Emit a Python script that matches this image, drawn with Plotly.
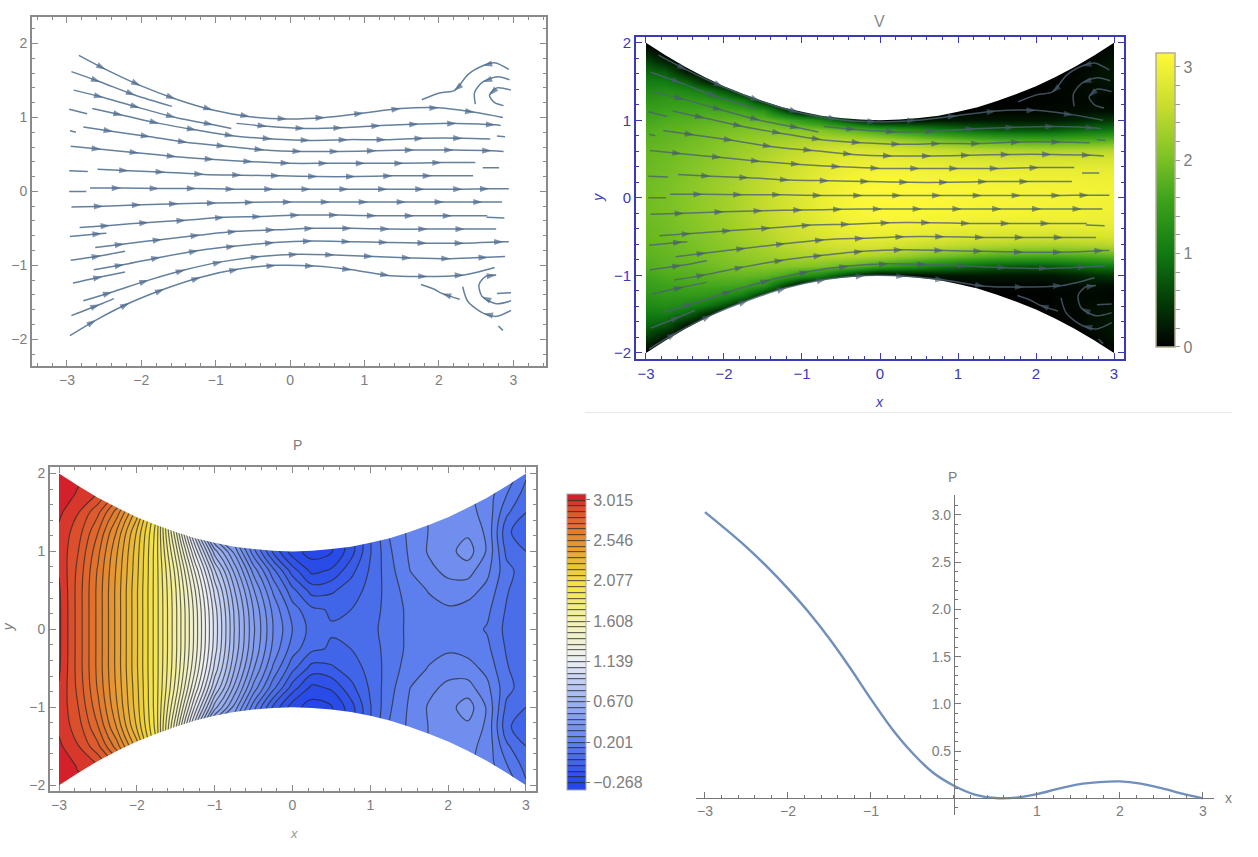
import numpy as np
import plotly.graph_objects as go

W, H = 1258, 857

# ---------- data ----------
stream_x = [
 [-2.84,-2.48,-2.01,-1.54,-1.04,-.54,-.04,.47,.99,1.49,2.0,2.48,2.86],
 [-2.94,-2.55,-2.08,-1.59],
 [-2.91,-2.51,-2.02,-1.54,-1.03,-.79],
 [-2.97,-2.73],
 [-2.66,-2.25,-1.76,-1.26,-.75,-.24,.27,.78,1.29,1.80,2.32,2.69],
 [-.72,-.31,.2,.71,1.22,1.73,2.24,2.76,2.83],
 [-2.96,-2.88],
 [-2.78,-2.38,-1.88,-1.38,-.86,-.35,.16,.66,1.16,1.67,2.2,2.71,2.87],
 [-2.95,-2.54,-2.03,-1.53,-1.02,-.5,0,.51,1.01,1.53,2.04,2.49],
 [-2.97,-2.72],
 [-2.59,-2.17,-1.68,-1.16,-.65,-.13,.37,.88,1.38,1.91,2.46],
 [2.59,2.81],
 [2.78,2.89],
 [-2.97,-2.74],
 [-2.69,-2.27,-1.76,-1.26,-.74,-.22,.28,.79,1.31,1.81,2.32,2.68,2.94],
 [-2.94,-2.51,-2.0,-1.5,-.99,-.48,.03,.54,1.05,1.56,2.07,2.59,2.85],
 [-2.83,-2.42,-1.9,-1.4,-.88,-.38,.13,.65,1.16,1.67,2.18,2.65],
 [2.64,2.88],
 [-2.96,-2.53,-2.47],
 [-2.62,-2.23,-1.72,-1.21,-.71,-.2,.32,.83,1.34,1.85,2.35,2.77],
 [-2.95,-2.54,-2.22],
 [-2.64,-2.23,-1.74,-1.23,-.73,-.21,.3,.82,1.32,1.84,2.34,2.87,2.94],
 [-2.92,-2.52,-2.22],
 [-2.78,-2.39,-1.9,-1.41,-.91,-.4,.11,.6,1.12,1.63,2.16,2.66,2.89],
 [-2.94,-2.56,-2.37],
 [-2.96,-2.61,-2.16,-1.69,-1.2,-.69,-.19,.33,.83,1.34,1.85,2.34,2.75],
 [2.94,2.75,2.59,2.39,2.25,2.2,2.01,1.77],
 [2.95,2.79,2.59,2.48,2.49],
 [2.97,2.78,2.68,2.75,2.87],
 [2.28,2.04,1.93,1.76],
 [2.97,2.78,2.6,2.39,2.32],
 [2.97,2.77,2.58,2.54,2.63,2.77],
 [2.97,2.78],
 [2.86,2.8],
]
stream_y = [
 [1.84,1.65,1.43,1.25,1.10,1.01,.98,1.0,1.06,1.12,1.13,1.07,1.0],
 [1.62,1.48,1.30,1.15],
 [1.37,1.27,1.13,1.0,.90,.85],
 [1.11,1.05],
 [1.12,1.03,.92,.83,.75,.71,.69,.70,.70,.72,.72,.71],
 [.92,.88,.85,.86,.89,.91,.92,.90,.89],
 [.82,.80],
 [.87,.81,.74,.66,.61,.56,.54,.54,.55,.56,.56,.55,.54],
 [.61,.57,.52,.47,.43,.40,.38,.38,.38,.38,.39,.39],
 [.28,.27],
 [.30,.28,.26,.23,.22,.21,.20,.20,.21,.21,.21],
 [.32,.32],
 [.75,.74],
 [0,0],
 [.045,.045,.04,.04,.03,.03,.03,.03,.03,.03,.03,.035,.035],
 [-.21,-.20,-.18,-.166,-.157,-.148,-.143,-.143,-.143,-.143,-.143,-.143,-.143],
 [-.49,-.46,-.42,-.39,-.35,-.34,-.32,-.32,-.33,-.33,-.33,-.33],
 [-.35,-.36],
 [-.61,-.57,-.565],
 [-.76,-.71,-.65,-.59,-.54,-.52,-.50,-.50,-.51,-.51,-.51,-.51],
 [-.93,-.87,-.81],
 [-1.06,-.99,-.89,-.80,-.74,-.69,-.67,-.68,-.69,-.70,-.70,-.68,-.68],
 [-1.24,-1.15,-1.09],
 [-1.48,-1.36,-1.2,-1.06,-.95,-.88,-.85,-.86,-.88,-.90,-.91,-.89,-.88],
 [-1.68,-1.53,-1.45],
 [-1.95,-1.74,-1.51,-1.32,-1.16,-1.05,-1.0,-1.01,-1.06,-1.14,-1.15,-1.13,-1.03],
 [1.65,1.74,1.70,1.58,1.40,1.36,1.33,1.24],
 [1.51,1.55,1.48,1.34,1.18],
 [1.37,1.40,1.30,1.20,1.16],
 [-1.46,-1.38,-1.32,-1.26],
 [-1.61,-1.69,-1.65,-1.49,-1.29],
 [-1.48,-1.52,-1.42,-1.26,-1.15,-1.13],
 [-1.37,-1.38],
 [-1.88,-1.82],
]
# streams whose arrowheads are not on every interior point: stream number -> point numbers
vortex_heads = {26: [2, 5], 27: [2], 28: [2], 29: [1], 30: [2], 31: [2, 5]}

wall_x = [-3,-2.75,-2.5,-2.25,-2,-1.75,-1.5,-1.25,-1,-.75,-.5,-.25,0,.25,.5,.75,1,1.25,1.5,1.75,2,2.25,2.5,2.75,3]
wall_top = [2,1.84,1.69,1.56,1.44,1.34,1.25,1.17,1.11,1.06,1.03,1.01,1,1.01,1.03,1.06,1.11,1.17,1.25,1.34,1.44,1.56,1.69,1.84,2]

field_y = [0,.125,.25,.375,.5,.625,.75,.875,1,1.125,1.25,1.375,1.5,1.625,1.75,1.875,2]
speed_columns = [
 [1.95,1.95,1.93,1.9,1.88,1.85,1.8,1.72,1.62,1.5,1.38,1.22,1.05,.85,.6,.3,0],
 [2.0,2.0,1.98,1.96,1.93,1.9,1.85,1.8,1.7,1.58,1.45,1.28,1.05,.75,.3,0,0],
 [2.1,2.1,2.08,2.05,2.02,1.98,1.92,1.85,1.75,1.62,1.45,1.2,.85,.25,0,0,0],
 [2.2,2.2,2.18,2.15,2.1,2.05,2.0,1.92,1.8,1.65,1.42,1.05,.4,0,0,0,0],
 [2.3,2.3,2.28,2.25,2.2,2.15,2.08,2.0,1.85,1.65,1.3,.7,0,0,0,0,0],
 [2.42,2.42,2.4,2.36,2.32,2.25,2.18,2.05,1.88,1.6,1.05,.2,0,0,0,0,0],
 [2.55,2.55,2.52,2.48,2.42,2.35,2.25,2.1,1.85,1.4,.4,0,0,0,0,0,0],
 [2.68,2.68,2.65,2.6,2.55,2.45,2.32,2.1,1.7,.7,0,0,0,0,0,0,0],
 [2.82,2.8,2.78,2.72,2.65,2.55,2.38,2.1,1.4,.05,0,0,0,0,0,0,0],
 [2.95,2.93,2.9,2.84,2.76,2.63,2.42,2.05,1.15,0,0,0,0,0,0,0,0],
 [3.05,3.03,3,2.94,2.85,2.7,2.45,1.9,.7,0,0,0,0,0,0,0,0],
 [3.12,3.1,3.07,3.0,2.9,2.73,2.42,1.75,.3,0,0,0,0,0,0,0,0],
 [3.15,3.13,3.1,3.03,2.92,2.72,2.35,1.55,0,0,0,0,0,0,0,0,0],
 [3.15,3.13,3.1,3.02,2.9,2.68,2.25,1.4,.1,0,0,0,0,0,0,0,0],
 [3.13,3.12,3.08,3.0,2.86,2.6,2.12,1.25,.15,0,0,0,0,0,0,0,0],
 [3.12,3.1,3.06,2.98,2.82,2.55,2.0,1.1,.2,0,0,0,0,0,0,0,0],
 [3.1,3.09,3.05,2.95,2.78,2.48,1.9,.95,.2,0,0,0,0,0,0,0,0],
 [3.08,3.07,3.03,2.93,2.75,2.42,1.8,.85,.2,.03,0,0,0,0,0,0,0],
 [3.07,3.06,3.02,2.92,2.73,2.38,1.72,.75,.2,.05,0,0,0,0,0,0,0],
 [3.06,3.05,3.01,2.91,2.72,2.35,1.68,.72,.2,.05,.01,0,0,0,0,0,0],
 [3.05,3.04,3,2.9,2.7,2.33,1.65,.7,.2,.05,.02,.02,0,0,0,0,0],
 [3.04,3.03,3,2.9,2.7,2.32,1.65,.75,.22,.07,.04,.04,.03,0,0,0,0],
 [3.03,3.02,3,2.9,2.72,2.35,1.7,.85,.28,.1,.06,.07,.06,.04,0,0,0],
 [3.02,3.01,2.98,2.9,2.72,2.38,1.72,.95,.4,.12,.08,.1,.12,.12,.08,.03,0],
 [3.0,3.0,2.98,2.9,2.75,2.42,1.8,1.0,.45,.12,.03,.12,.18,.2,.16,.1,0],
]

pressure_y = [0,.25,.5,.75,1,1.25,1.5,1.75,2]
pressure_columns = [
 [3.03,3.03,3.025,3.01,3.0,3.0,3.03,3.10,3.2],
 [2.85,2.85,2.85,2.86,2.88,2.91,2.95,3.0,3.05],
 [2.66,2.66,2.66,2.67,2.7,2.75,2.83,2.95,3.05],
 [2.45,2.45,2.45,2.46,2.48,2.53,2.64,2.8,2.95],
 [2.22,2.22,2.22,2.23,2.24,2.27,2.38,2.55,2.7],
 [1.97,1.97,1.97,1.97,1.97,1.98,2.02,2.1,2.2],
 [1.69,1.69,1.68,1.65,1.58,1.49,1.45,1.45,1.45],
 [1.38,1.375,1.34,1.26,1.12,.95,.95,.95,.95],
 [1.05,1.037,.985,.88,.70,.45,.45,.45,.45],
 [.74,.728,.68,.59,.45,.3,.3,.3,.3],
 [.48,.465,.41,.31,.16,.1,.1,.1,.1],
 [.27,.25,.19,.09,-.08,-.15,-.15,-.15,-.15],
 [.133,.10,.02,-.10,-.24,-.26,-.26,-.26,-.26],
 [.04,.015,-.095,-.22,-.30,-.30,-.30,-.30,-.30],
 [.006,-.008,-.08,-.19,-.275,-.27,-.27,-.27,-.27],
 [.008,0,-.03,-.09,-.165,-.16,-.16,-.16,-.16],
 [.045,.035,.02,.01,-.005,0,0,0,0],
 [.10,.095,.10,.11,.125,.14,.14,.14,.14],
 [.148,.15,.165,.198,.21,.215,.22,.22,.22],
 [.172,.178,.205,.25,.275,.27,.27,.27,.27],
 [.179,.19,.24,.285,.31,.30,.29,.29,.29],
 [.16,.175,.23,.295,.37,.32,.285,.28,.28],
 [.128,.15,.18,.22,.26,.255,.25,.24,.24],
 [.05,.06,.075,.09,.05,.02,.08,.14,.2],
 [0,.005,.01,.03,0,-.06,0,.04,.08],
]

curve_x = [-3,-2.75,-2.5,-2.25,-2,-1.75,-1.5,-1.25,-1,-.75,-.5,-.25,0,.25,.5,.75,1,1.25,1.5,1.75,2,2.25,2.5,2.75,3]
curve_p = [3.03,2.85,2.66,2.45,2.22,1.97,1.69,1.38,1.05,.74,.48,.27,.133,.04,.003,.008,.045,.10,.148,.172,.179,.155,.108,.05,0]

pressure_ticks = [3.015,2.546,2.077,1.608,1.139,.670,.201,-.268]
pressure_labels = ["3.015","2.546","2.077","1.608","1.139","0.670","0.201","−0.268"]
speed_ticks = [0,.2,.4,.6,.8,1,1.2,1.4,1.6,1.8,2,2.2,2.4,2.6,2.8,3]
speed_labels = ["0","","","","","1","","","","","2","","","","","3"]
curve_xticks = [-3,-2,-1,1,2,3]
curve_yticks = [.5,1,1.5,2,2.5,3]

# ---------- styles ----------
FONT = "Liberation Sans"
GREY = "#7d7d7d"
BLUE = "#3a3ab8"
speed_scale = [[0,"#000000"],[.15,"#033a06"],[.32,"#117a12"],[.5,"#3da31c"],[.65,"#7fc326"],[.82,"#c8dd2e"],[1,"#fff838"]]
press_scale = [[0,"#2748e8"],[.03,"#2a4de8"],[.1,"#4a6eea"],[.163,"#6888ee"],[.3,"#a0b5f2"],[.436,"#eef0f5"],[.572,"#f5f3b0"],
               [.708,"#f2e040"],[.86,"#e48a30"],[.96,"#dc4f2c"],[1,"#d4202a"]]

def xdom(a, b): return [a / W, b / W]
def ydom(top, bottom): return [1 - bottom / H, 1 - top / H]

fig = go.Figure()

def add_streams(xa, ya, color, head):
    for i, (sx, sy) in enumerate(zip(stream_x, stream_y)):
        heads = vortex_heads.get(i, range(1, len(sx) - 1))
        sizes = [10 if k in heads else 0 for k in range(len(sx))]
        fig.add_trace(go.Scatter(
            x=sx, y=sy, xaxis=xa, yaxis=ya, mode="lines+markers", showlegend=False, hoverinfo="skip",
            line=dict(color=color, width=1.5, shape="spline", smoothing=.8),
            marker=dict(symbol="arrow", size=sizes, color=head, angleref="previous", line=dict(width=0)),
        ))

def add_mask(xa, ya, side):
    fx = list(wall_x) + [side, side, -side, -side, None] + list(wall_x) + [side, side, -side, -side]
    fy = list(wall_top) + [wall_top[-1], 2.4, 2.4, wall_top[0], None] + [-v for v in wall_top] + [-wall_top[-1], -2.4, -2.4, -wall_top[0]]
    if side > 3:
        edge = wall_top[0]
        fx += [None, -side, -3, -3, -side, None, 3, side, side, 3]
        fy += [None, -edge, -edge, edge, edge, None, -edge, -edge, edge, edge]
    fig.add_trace(go.Scatter(x=fx, y=fy, xaxis=xa, yaxis=ya, mode="none", fill="toself",
                             fillcolor="white", showlegend=False, hoverinfo="skip"))

# panel 1
add_streams("x", "y", "#64809f", "#4d6a8e")

# panel 2
sy_full = [-v for v in field_y[:0:-1]] + list(field_y)
sp_rows = np.array(speed_columns).T
sp_full = np.vstack([sp_rows[:0:-1], sp_rows])
fig.add_trace(go.Heatmap(
    x=wall_x, y=sy_full, z=sp_full, xaxis="x2", yaxis="y2", zsmooth="best", zmin=0, zmax=3.15,
    colorscale=speed_scale, hoverinfo="skip",
    colorbar=dict(x=1156 / W, xanchor="left", y=1 - 346 / H, yanchor="bottom", len=294, lenmode="pixels",
                  thickness=19, thicknessmode="pixels", tickvals=speed_ticks, ticktext=speed_labels,
                  ticks="outside", ticklen=5, tickcolor="#999", outlinecolor="#b5ad95", outlinewidth=1.5, xpad=0, ypad=0,
                  tickfont=dict(family=FONT, size=16, color=GREY)),
))
add_mask("x2", "y2", 3.4)
add_streams("x2", "y2", "rgba(78,98,115,.8)", "rgba(70,90,110,.9)")

# panel 3
py_full = [-v for v in pressure_y[:0:-1]] + list(pressure_y)
pr_rows = np.array(pressure_columns).T
pr_full = np.vstack([pr_rows[:0:-1], pr_rows])
fig.add_trace(go.Contour(
    x=wall_x, y=py_full, z=pr_full, xaxis="x3", yaxis="y3", zmin=-.36, zmax=3.08,
    autocontour=False, contours=dict(start=-.268, end=3.015, size=.067, coloring="fill"),
    colorscale=press_scale, hoverinfo="skip",
    line=dict(color="rgba(40,40,40,.7)", width=1.2, smoothing=1),
    colorbar=dict(x=567 / W, xanchor="left", y=1 - 792 / H, yanchor="bottom", len=296, lenmode="pixels",
                  thickness=19, thicknessmode="pixels", tickvals=pressure_ticks, ticktext=pressure_labels,
                  ticks="outside", ticklen=4, tickcolor="#777", outlinecolor="#aaa", outlinewidth=1, xpad=0, ypad=0,
                  tickfont=dict(family=FONT, size=16, color=GREY)),
))
add_mask("x3", "y3", 3.0)

# panel 4
fig.add_trace(go.Scatter(x=curve_x, y=curve_p, xaxis="x4", yaxis="y4", mode="lines", showlegend=False, hoverinfo="skip",
                         line=dict(color="#6f8fbd", width=2.4, shape="spline", smoothing=.6)))

def framed(color, width, fsize, dom, rng, anchor):
    return dict(domain=dom, range=rng, anchor=anchor, showgrid=False, zeroline=False, showline=True,
                linecolor=color, linewidth=width, mirror="ticks", ticks="inside", ticklen=6, tickwidth=1,
                tickcolor=color, dtick=1, tick0=0,
                minor=dict(dtick=.2, tick0=0, ticks="inside", ticklen=3, tickwidth=1, tickcolor=color),
                tickfont=dict(family=FONT, size=fsize, color=GREY if color != BLUE else BLUE))

c4y0 = 800
c4x0 = 954
layout = dict(
    width=W, height=H, margin=dict(l=0, r=0, t=0, b=0), paper_bgcolor="white", plot_bgcolor="white",
    showlegend=False,
    xaxis=framed("#8a8a8a", 2, 14, xdom(32, 546), [-3.47, 3.44], "y"),
    yaxis=framed("#8a8a8a", 2, 14, ydom(14, 365), [-2.36, 2.36], "x"),
    xaxis2=framed(BLUE, 2, 15, xdom(636, 1124), [-3.128, 3.128], "y2"),
    yaxis2=framed(BLUE, 2, 15, ydom(34, 358), [-2.077, 2.077], "x2"),
    xaxis3=framed("#8a8a8a", 2, 14, xdom(50, 536), [-3.116, 3.129], "y3"),
    yaxis3=framed("#8a8a8a", 2, 14, ydom(467, 793), [-2.08, 2.08], "x3"),
    xaxis4=dict(domain=xdom(696, 1214), range=[-3.108, 3.133], anchor="free", position=1 - c4y0 / H,
                showgrid=False, zeroline=False, showline=True, linecolor="#777", linewidth=1.2,
                ticks="inside", ticklen=6, tickwidth=1, tickcolor="#777", tickvals=curve_xticks,
                minor=dict(dtick=.2, tick0=0, ticks="inside", ticklen=3, tickwidth=1, tickcolor="#777"),
                tickfont=dict(family=FONT, size=14, color=GREY)),
    yaxis4=dict(domain=ydom(495, 817), range=[-.179, 3.21], anchor="free", position=c4x0 / W,
                showgrid=False, zeroline=False, showline=True, linecolor="#777", linewidth=1.2,
                ticks="inside", ticklen=6, tickwidth=1, tickcolor="#777", tickvals=curve_yticks, tickformat=".1f",
                minor=dict(dtick=.1, tick0=0, ticks="inside", ticklen=3, tickwidth=1, tickcolor="#777"),
                tickfont=dict(family=FONT, size=14, color=GREY)),
    shapes=[dict(type="line", xref="paper", yref="paper", x0=585 / W, x1=1232 / W, y0=1 - 412 / H, y1=1 - 412 / H,
                 line=dict(color="#e6e6e6", width=1))],
)

def label(text, px, py, color=GREY, size=13, angle=0, italic=False):
    return dict(text=f"<i>{text}</i>" if italic else text, x=px / W, y=1 - py / H, xref="paper", yref="paper",
                showarrow=False, textangle=angle, xanchor="center", yanchor="middle",
                font=dict(family=FONT, size=size, color=color))

layout["annotations"] = [
    label("V", 879, 19, "#8a8a8a", 16),
    label("x", 879, 401, BLUE, 14, italic=True),
    label("y", 598, 196, BLUE, 14, -90, italic=True),
    label("P", 297, 445, GREY, 14),
    label("x", 294, 835, "#999", 13, italic=True),
    label("y", 8, 628, GREY, 14, -90, italic=True),
    label("P", 952, 477, GREY, 14),
    label("x", 1228, 800, GREY, 14),
]
fig.update_layout(**layout)
fig.write_html("out.html", config={"displayModeBar": False}, post_script="document.body.style.margin='0';")
